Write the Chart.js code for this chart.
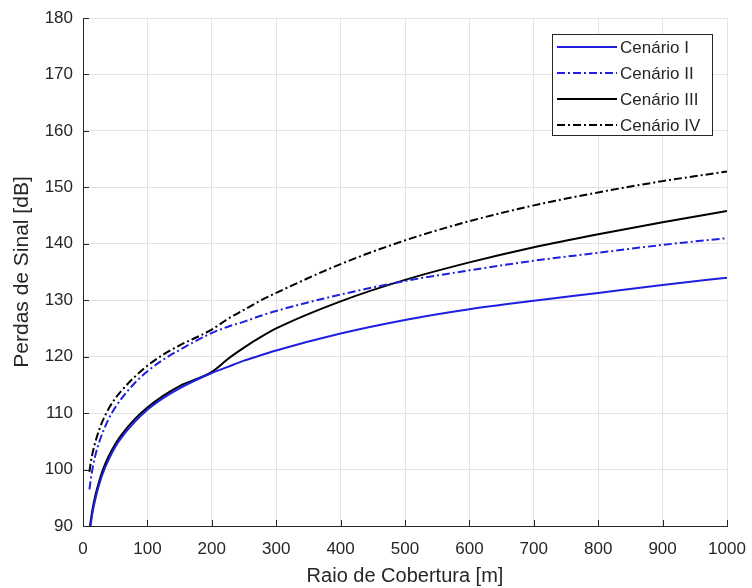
<!DOCTYPE html>
<html>
<head>
<meta charset="utf-8">
<script src="https://cdn.jsdelivr.net/npm/chart.js@4"></script>
<style>
  html, body { margin: 0; padding: 0; background: #fff; }
  #wrap { width: 752px; height: 588px; position: relative; }
</style>
</head>
<body>
<div id="wrap"><canvas id="chart"></canvas></div>
<script>
// distances [m] and path loss [dB]
const raio = [10, 12, 15, 20, 25, 30, 40, 50, 60, 80, 100, 125, 150, 200, 225, 250, 275, 300, 400, 500, 600, 700, 800, 900, 1000];
const cenarioI   = [88.6, 90.3, 92.5, 95.2, 97.3, 99.1, 101.8, 104.0, 105.7, 108.4, 110.6, 112.7, 114.4, 117.1, 118.2, 119.3, 120.2, 121.1, 124.1, 126.5, 128.4, 129.9, 131.3, 132.7, 134.0];
const cenarioII  = [96.5, 98.2, 100.3, 102.9, 104.8, 106.4, 109.0, 111.0, 112.6, 115.3, 117.4, 119.5, 121.2, 124.2, 125.3, 126.2, 127.2, 128.1, 131.0, 133.4, 135.3, 137.0, 138.4, 139.8, 141.0];
const cenarioIII = [89.2, 90.9, 93.1, 95.8, 97.9, 99.7, 102.4, 104.5, 106.2, 108.9, 111.0, 113.1, 114.8, 117.3, 119.6, 121.6, 123.4, 125.0, 129.8, 133.6, 136.7, 139.4, 141.7, 143.8, 145.8];
const cenarioIV  = [99.6, 101.2, 103.0, 105.2, 107.0, 108.5, 110.8, 112.6, 114.0, 116.4, 118.4, 120.4, 122.0, 124.8, 126.7, 128.3, 129.9, 131.3, 136.4, 140.6, 144.0, 146.8, 149.1, 151.1, 152.8];
const labels = ['Cenário I', 'Cenário II', 'Cenário III', 'Cenário IV'];

const FONT = "'Liberation Sans', Arial, sans-serif";
const TXT = '#262626';
const BLUE = '#1f1fe0';
const DASHDOT = [8, 3, 2, 3];

function pts(ys) {
    return raio.map((x, i) => ({ x: x, y: ys[i] }));
}

function line(label, ys, color, dash) {
    return {
        label: label,
        data: pts(ys),
        borderColor: color,
        borderWidth: 2,
        borderDash: dash,
        pointRadius: 0,
        fill: false,
        cubicInterpolationMode: 'monotone'
    };
}

// inward ticks + boxed legend like the matlab figure
const matlabBits = {
    id: 'matlabBits',
    afterDraw(chart) {
        const ctx = chart.ctx;
        const area = chart.chartArea;
        const xs = chart.scales.x;
        const ys = chart.scales.y;
        ctx.save();
        ctx.strokeStyle = TXT;
        ctx.lineWidth = 1;
        ctx.beginPath();
        xs.ticks.forEach(t => {
            const px = Math.round(xs.getPixelForValue(t.value)) + 0.5;
            ctx.moveTo(px, area.bottom);
            ctx.lineTo(px, area.bottom - 6);
        });
        ys.ticks.forEach(t => {
            const py = Math.round(ys.getPixelForValue(t.value)) + 0.5;
            ctx.moveTo(area.left, py);
            ctx.lineTo(area.left + 6, py);
        });
        ctx.stroke();

        // legend
        const bx = 552, by = 34, bw = 160, bh = 101;
        ctx.fillStyle = '#fff';
        ctx.fillRect(bx, by, bw, bh);
        ctx.strokeStyle = TXT;
        ctx.strokeRect(bx + 0.5, by + 0.5, bw, bh);
        ctx.font = '17px ' + FONT;
        ctx.textBaseline = 'middle';
        ctx.textAlign = 'left';
        chart.data.datasets.forEach((ds, i) => {
            const y = by + 13 + i * 26;
            ctx.strokeStyle = ds.borderColor;
            ctx.lineWidth = 2;
            ctx.setLineDash(ds.borderDash || []);
            ctx.beginPath();
            ctx.moveTo(bx + 5, y);
            ctx.lineTo(bx + 65, y);
            ctx.stroke();
            ctx.setLineDash([]);
            ctx.fillStyle = TXT;
            ctx.fillText(ds.label, bx + 68, y + 1);
        });
        ctx.restore();
    }
};

const ctx = document.getElementById('chart').getContext('2d');
const chart = new Chart(ctx, {
    type: 'line',
    data: {
        datasets: [
            line(labels[0], cenarioI, BLUE, []),
            line(labels[1], cenarioII, BLUE, DASHDOT),
            line(labels[2], cenarioIII, '#000', []),
            line(labels[3], cenarioIV, '#000', DASHDOT)
        ]
    },
    options: {
        responsive: true,
        maintainAspectRatio: false,
        animation: false,
        devicePixelRatio: 1,
        layout: { padding: { left: 0, right: 25, top: 18, bottom: 0 } },
        plugins: {
            legend: { display: false },
            tooltip: { enabled: false }
        },
        scales: {
            x: {
                type: 'linear',
                min: 0,
                max: 1000,
                ticks: {
                    stepSize: 100, color: TXT, padding: 13, maxRotation: 0,
                    font: { family: FONT, size: 17 },
                    callback: v => String(v)
                },
                grid: { color: '#e3e3e3', drawTicks: false },
                border: { display: true, color: TXT },
                title: { display: true, text: 'Raio de Cobertura [m]', color: TXT, font: { family: FONT, size: 20 }, padding: { top: 0, bottom: 0 } },
                afterFit(scale) {
                    scale.height = 62;
                    scale.paddingLeft = 0;
                    scale.paddingRight = 0;
                }
            },
            y: {
                min: 90,
                max: 180,
                ticks: { stepSize: 10, color: TXT, padding: 10, font: { family: FONT, size: 17 } },
                grid: { color: '#e3e3e3', drawTicks: false },
                border: { display: true, color: TXT },
                title: { display: true, text: 'Perdas de Sinal [dB]', color: TXT, font: { family: FONT, size: 21 }, padding: { top: 10, bottom: 0 } },
                afterFit(scale) {
                    scale.width = 83;
                    scale.paddingTop = 0;
                    scale.paddingBottom = 0;
                }
            }
        }
    },
    plugins: [matlabBits]
});
</script>
</body>
</html>
